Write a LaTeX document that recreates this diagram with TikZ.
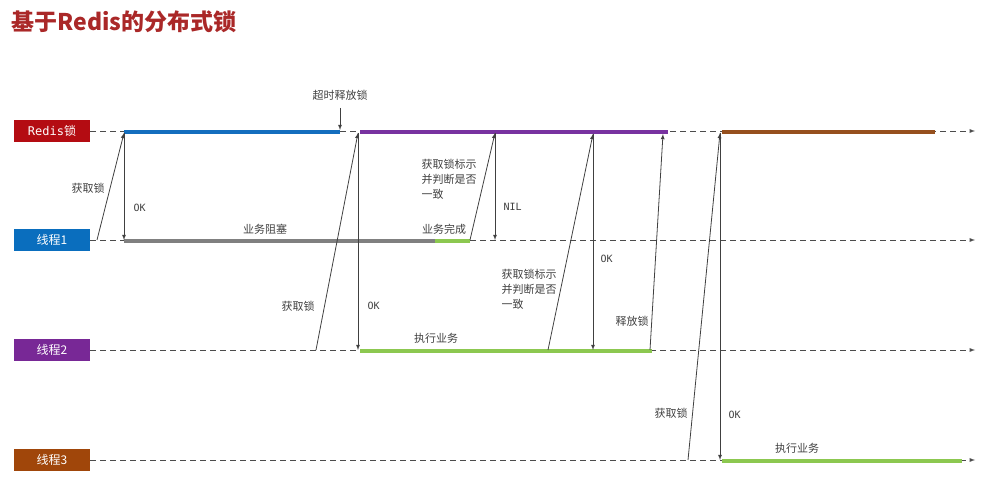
\documentclass[tikz,border=0pt]{standalone}
\usepackage{fontspec}
\setmainfont{Noto Sans CJK SC}
\newfontfamily\monof{DejaVu Sans Mono}
\definecolor{cblue}{RGB}{20,110,190}
\definecolor{cpurple}{RGB}{120,50,160}
\definecolor{cbrown}{RGB}{150,80,30}
\definecolor{cgreen}{RGB}{140,200,80}
\definecolor{ctitle}{RGB}{170,40,40}
\definecolor{bred}{RGB}{180,12,18}
\definecolor{bblue}{RGB}{10,110,190}
\definecolor{bpurple}{RGB}{120,40,150}
\definecolor{bbrown}{RGB}{160,70,10}
\begin{document}
\begin{tikzpicture}[x=1pt,y=-1pt,
  lbl/.style={font=\fontsize{11}{13}\selectfont, text=black!75},
  mono/.style={font=\monof\fontsize{10}{12}\selectfont, text=black!75},
  box/.style={minimum width=76pt,minimum height=22pt,inner sep=0pt,text=white,font=\fontsize{12}{14}\selectfont},
  tl/.style={dash pattern=on 6pt off 4pt,black!70,line width=0.9pt,-latex},
  arr/.style={black!75,-latex,line width=0.8pt},
  seg/.style={line width=4pt}]
\useasboundingbox (0,0) rectangle (1002,502);
\node[anchor=west,font=\bfseries\fontsize{23}{27}\selectfont,text=ctitle] (title) at (8,22) {基于Redis的分布式锁};
\node[box,fill=bred] (r) at (52,131) {\monof Redis\rmfamily 锁};
\node[box,fill=bblue] (t1) at (52,240) {线程1};
\node[box,fill=bpurple] (t2) at (52,350) {线程2};
\node[box,fill=bbrown] (t3) at (52,460) {线程3};
\foreach \n/\y in {r/131,t1/240,t2/350,t3/460} \draw[tl] (\n.east) -- (975,\y) coordinate (\n e);
% segments
\draw[seg,cblue] (124,132) -- (340,132);
\draw[seg,cpurple] (360,132) -- (668,132);
\draw[seg,cbrown] (722,132) -- (935,132);
\draw[seg,gray] (124,241) -- (435,241);
\draw[seg,cgreen] (435,241) -- (470,241);
\draw[seg,cgreen] (360,351) -- (652,351);
\draw[seg,cgreen] (722,461) -- (962,461);
% coordinates
\coordinate (a1) at (97,240); \coordinate (a2) at (124,133); \coordinate (a3) at (124,240);
\coordinate (b0) at (340,108); \coordinate (b1) at (340,130);
\coordinate (c1) at (316,350); \coordinate (c2) at (358,133); \coordinate (c3) at (358,350);
\coordinate (d1) at (470,240); \coordinate (d2) at (495,133); \coordinate (d3) at (495,240);
\coordinate (e1) at (548,350); \coordinate (e2) at (593,134); \coordinate (e3) at (593,350);
\coordinate (f1) at (650,350); \coordinate (f2) at (663,134);
\coordinate (g1) at (688,460); \coordinate (g2) at (720,133); \coordinate (g3) at (720,460);
\draw[arr] (a1) -- (a2); \draw[arr] (a2) -- (a3);
\draw[arr] (b0) -- (b1);
\draw[arr] (c1) -- (c2); \draw[arr] (c2) -- (c3);
\draw[arr] (d1) -- (d2); \draw[arr] (d2) -- (d3);
\draw[arr] (e1) -- (e2); \draw[arr] (e2) -- (e3);
\draw[arr] (f1) -- (f2);
\draw[arr] (g1) -- (g2); \draw[arr] (g2) -- (g3);
% labels
\node[lbl] (l1) at (88,188) {获取锁};
\node[mono,anchor=west] (l2) at (130,208) {OK};
\node[lbl] (l3) at (340,95) {超时释放锁};
\node[lbl] (l4) at (265,229) {业务阻塞};
\node[lbl] (l5) at (444,229) {业务完成};
\node[lbl,align=left,anchor=north west,font=\fontsize{11}{15}\selectfont] (l6) at (418,156) {获取锁标示\\并判断是否\\一致};
\node[mono,anchor=west] (l7) at (500,207) {NIL};
\node[lbl] (l8) at (298,306) {获取锁};
\node[mono,anchor=west] (l9) at (364,306) {OK};
\node[lbl] (l10) at (436,338) {执行业务};
\node[lbl,align=left,anchor=north west,font=\fontsize{11}{15}\selectfont] (l11) at (498,266) {获取锁标示\\并判断是否\\一致};
\node[mono,anchor=west] (l12) at (597,259) {OK};
\node[lbl] (l13) at (632,321) {释放锁};
\node[lbl] (l14) at (671,413) {获取锁};
\node[mono,anchor=west] (l15) at (725,415) {OK};
\node[lbl] (l16) at (797,448) {执行业务};
\end{tikzpicture}
\end{document}
